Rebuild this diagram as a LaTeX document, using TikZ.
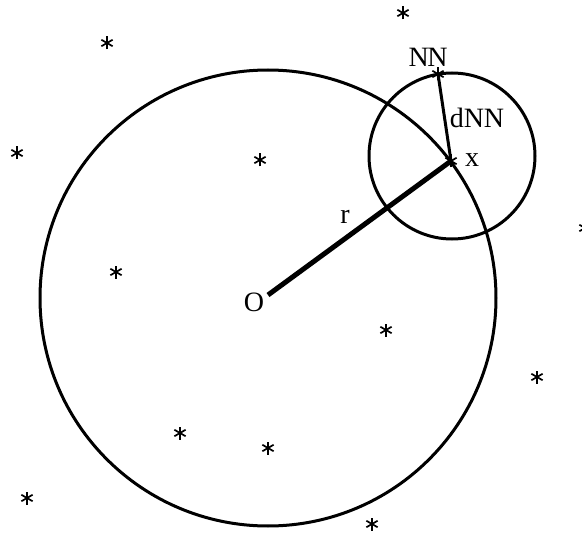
\documentclass[tikz,border=0pt]{standalone}
\usepackage{fontspec}
\setmainfont{Liberation Serif}
\begin{document}
\begin{tikzpicture}[x=1pt,y=-1pt,
  circ/.style={line width=3pt},
  radius line/.style={line width=5pt},
  nn line/.style={line width=3pt},
  lbl/.style={font=\fontsize{28}{28}\selectfont, inner sep=0pt},
  star/.pic={\foreach \a in {90,30,150}{\draw[line width=1.7pt] (\a:6.5) -- (\a+180:6.5);}}]
\useasboundingbox (0,0) rectangle (582,535);
\clip (0,0) rectangle (582,535);
% centres and points
\coordinate (O) at (268,298);
\coordinate (X) at (451,161);
\coordinate (NN) at (438,74);
\coordinate (Oend) at (268,295);
% circles
\draw[circ] (O) circle[radius=228];
\draw[circ] (452,156) circle[radius=83];
% connectors
\draw[radius line] (Oend) -- (X);
\draw[nn line] (X) -- (NN);
% labels
\node[lbl] (lO) at (254,302) {O};
\node[lbl] (lr) at (345,217) {r};
\node[lbl] (lx) at (472,160) {x};
\node[lbl] (lNN) at (428,57) {N\kern-1.5pt N};
\node[lbl] (ldNN) at (477,118) {dNN};
% stars
\foreach \p in {(403,13),(107,43),(17,153),(260,160),(116,272),(386,330),(537,377),(180,433),(268,448),(27,498),(372,524),(585,228),(451,161),(438,74)}
  \pic at \p {star};
\end{tikzpicture}
\end{document}
